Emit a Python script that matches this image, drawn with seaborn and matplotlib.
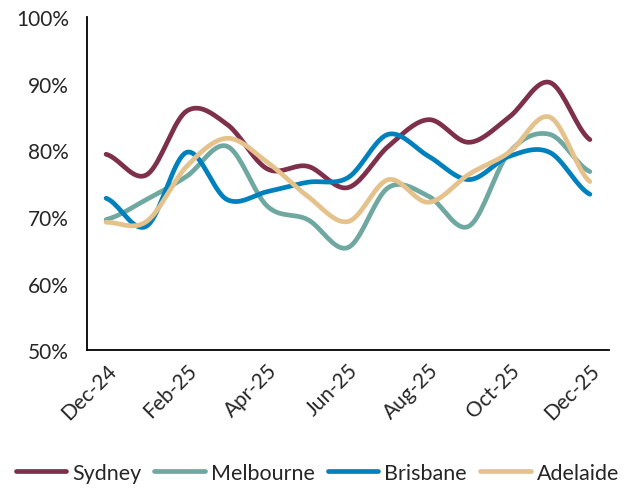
import matplotlib
matplotlib.use("Agg")
import matplotlib.pyplot as plt
import numpy as np
import pandas as pd
import seaborn as sns

sns.set_theme(style="white")
plt.rcParams['font.family'] = ['Lato', 'DejaVu Sans']

# Monthly values (%)
months = ["Dec-24", "Jan-25", "Feb-25", "Mar-25", "Apr-25", "May-25", "Jun-25",
          "Jul-25", "Aug-25", "Sep-25", "Oct-25", "Nov-25", "Dec-25"]
sydney = [79.4, 76.3, 85.9, 83.9, 77.2, 77.6, 74.4, 80.6, 84.6, 81.2, 85.0, 90.2, 81.6]
melbourne = [69.6, 72.6, 76.1, 80.6, 71.6, 69.6, 65.4, 74.4, 73.1, 68.6, 79.7, 82.4, 76.8]
brisbane = [72.8, 68.6, 79.7, 72.6, 73.8, 75.2, 75.9, 82.4, 79.1, 75.6, 79.1, 79.7, 73.4]
adelaide = [69.2, 69.3, 77.6, 81.8, 78.2, 73.1, 69.3, 75.6, 72.2, 76.4, 79.7, 85.0, 75.3]

series = {"Sydney": sydney, "Melbourne": melbourne, "Brisbane": brisbane, "Adelaide": adelaide}
colors = {"Sydney": "#7E2F4A", "Melbourne": "#6FA8A0", "Brisbane": "#0081BD", "Adelaide": "#E5C28C"}


def smooth(y, n=20):
    # Catmull-Rom curve through the points, like a spreadsheet "smoothed line"
    y = np.asarray(y, dtype=float)
    p = np.concatenate([[y[0]], y, [y[-1]]])
    xs, ys = [], []
    for i in range(len(y) - 1):
        t = np.linspace(0, 1, n, endpoint=False)
        p0, p1, p2, p3 = p[i], p[i + 1], p[i + 2], p[i + 3]
        seg = 0.5 * (2 * p1 + (-p0 + p2) * t + (2 * p0 - 5 * p1 + 4 * p2 - p3) * t ** 2
                     + (-p0 + 3 * p1 - 3 * p2 + p3) * t ** 3)
        xs.extend(i + t)
        ys.extend(seg)
    xs.append(len(y) - 1)
    ys.append(y[-1])
    return np.array(xs), np.array(ys)


frames = []
for name, vals in series.items():
    xs, ys = smooth(vals)
    frames.append(pd.DataFrame({"x": xs, "value": ys, "City": name}))
df = pd.concat(frames, ignore_index=True)

fig = plt.figure(figsize=(6.27, 4.89), dpi=100)
ax = fig.add_axes([0.139, 0.282, 0.832, 0.681])

sns.lineplot(data=df, x="x", y="value", hue="City", palette=colors, linewidth=3.4,
             solid_capstyle="round", ax=ax, sort=False, estimator=None, legend=False)

ax.set_ylim(50, 100)
ax.set_yticks(range(50, 101, 10))
ax.set_yticklabels([f"{v}%" for v in range(50, 101, 10)], fontsize=15)
ax.set_xlim(-0.47, 12.47)
ax.set_xticks(range(0, 13, 2))
ax.set_xticklabels(months[::2], rotation=45, ha="right", rotation_mode="anchor", fontsize=15)
ax.set_xlabel("")
ax.set_ylabel("")
ax.tick_params(axis="y", length=0, pad=13)
ax.tick_params(axis="x", length=0, pad=7)

for s in ["top", "right"]:
    ax.spines[s].set_visible(False)
for s in ["left", "bottom"]:
    ax.spines[s].set_color("black")
    ax.spines[s].set_linewidth(1.3)

handles = [plt.Line2D([], [], color=colors[n], linewidth=3.4, solid_capstyle="round") for n in series]
fig.legend(handles, list(series), loc="center", bbox_to_anchor=(0.506, 0.031), ncol=4,
           frameon=False, fontsize=15.5, handlelength=2.35, handletextpad=0.28, columnspacing=0.6,
           borderpad=0.1)

fig.savefig("out.png", dpi=100)
